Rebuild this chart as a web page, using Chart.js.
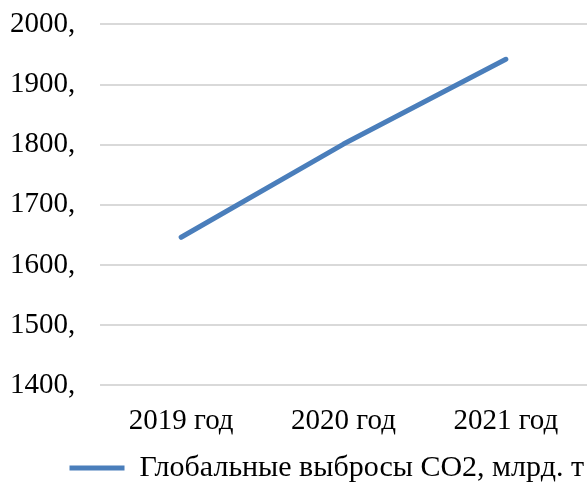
<!DOCTYPE html>
<html>
<head>
<meta charset="utf-8">
<script src="https://cdn.jsdelivr.net/npm/chart.js@4"></script>
<style>
  html, body { margin: 0; padding: 0; background: #ffffff; }
  #wrap { width: 587px; height: 482px; position: relative; }
</style>
</head>
<body>
<div id="wrap"><canvas id="c"></canvas></div>
<script>
// Global CO2 emissions by year
const years = ['2019 год', '2020 год', '2021 год'];
const emissions = [1646, 1801, 1942];
const seriesName = 'Глобальные выбросы CO2, млрд. т';
const yMin = 1400;
const yMax = 2000;
const yStep = 100;

const serif = '"Liberation Serif", "Times New Roman", serif';
const lineColor = '#4a7ebb';
const fontSize = 29;

new Chart(document.getElementById('c'), {
  type: 'line',
  data: {
    labels: years,
    datasets: [{
      label: seriesName,
      data: emissions,
      borderColor: lineColor,
      backgroundColor: lineColor,
      borderWidth: 5,
      borderCapStyle: 'round',
      borderJoinStyle: 'round',
      pointRadius: 0,
      pointHoverRadius: 0,
      tension: 0,
      fill: false
    }]
  },
  options: {
    responsive: true,
    maintainAspectRatio: false,
    animation: false,
    layout: { padding: { top: 0, right: 0, bottom: -11, left: 10 } },
    plugins: {
      tooltip: { enabled: false },
      legend: {
        position: 'bottom',
        align: 'end',
        labels: {
          usePointStyle: true,
          pointStyle: 'line',
          pointStyleWidth: 55,
          color: '#000000',
          padding: 3,
          font: { family: serif, size: 30 }
        }
      }
    },
    scales: {
      x: {
        offset: true,
        grid: { display: false },
        border: { display: false },
        ticks: {
          color: '#000000',
          padding: 11,
          maxRotation: 0,
          font: { family: serif, size: fontSize }
        }
      },
      y: {
        min: yMin,
        max: yMax,
        grid: { color: '#d9d9d9', lineWidth: 2, drawTicks: false },
        border: { display: false },
        afterFit: (scale) => { scale.width = 90; },
        ticks: {
          stepSize: yStep,
          color: '#000000',
          padding: 7,
          crossAlign: 'far',
          font: { family: serif, size: fontSize },
          callback: (v) => v + ','
        }
      }
    }
  }
});
</script>
</body>
</html>
